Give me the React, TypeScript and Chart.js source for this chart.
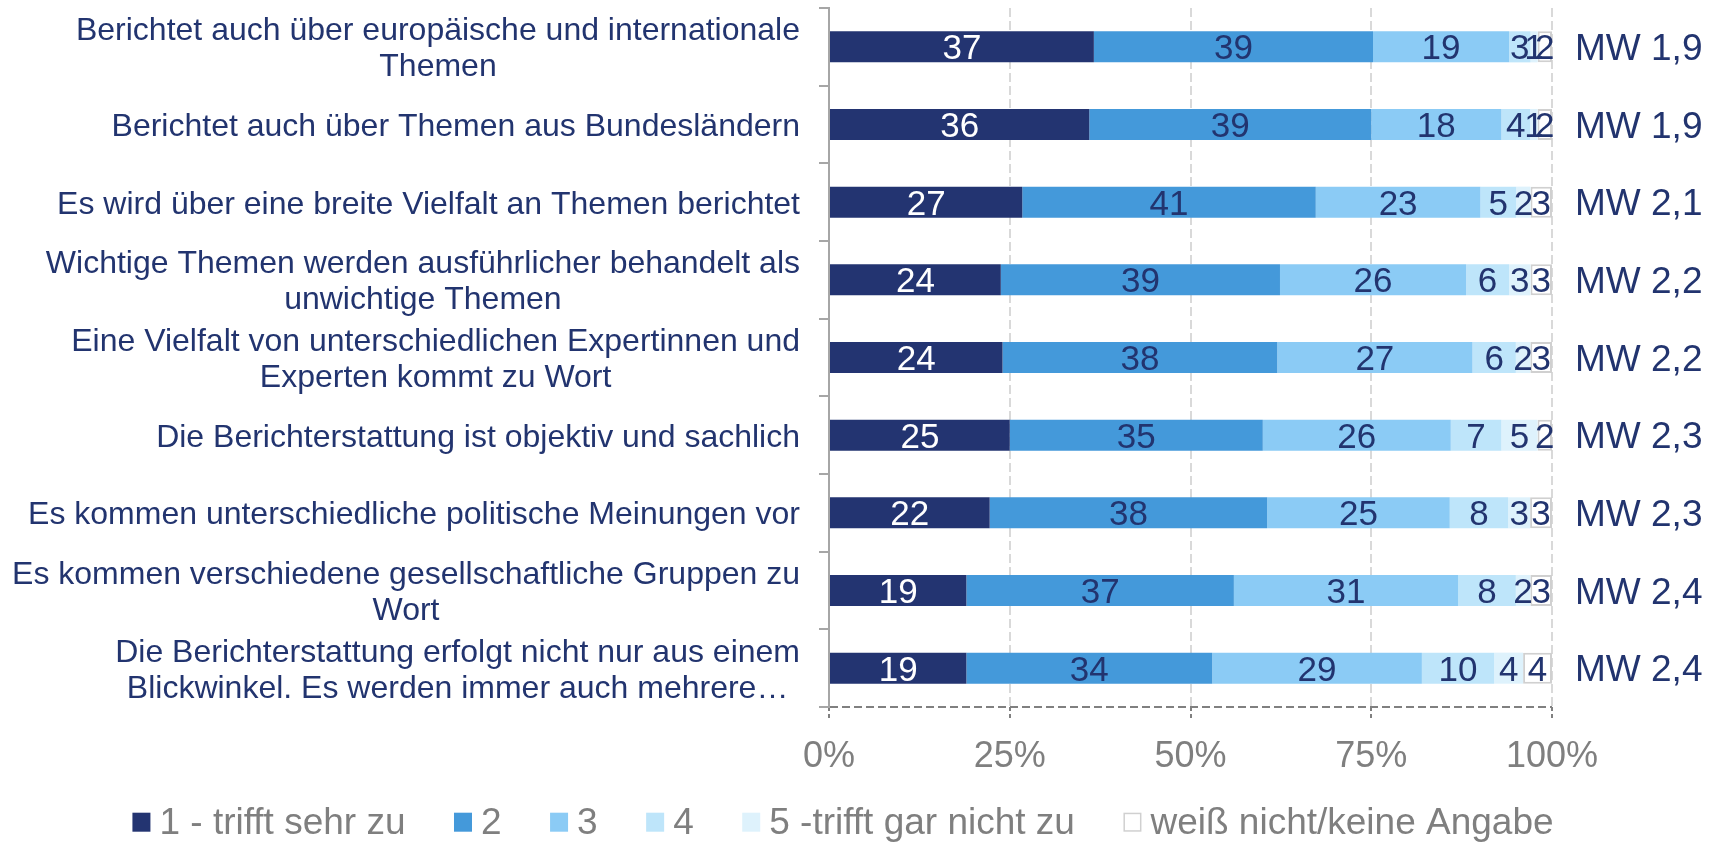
import React, { useEffect, useRef } from "react";
import { Chart, registerables } from "chart.js";

Chart.register(...registerables);

// ---------- data ----------
const categories: string[][] = [
  ["Berichtet auch über europäische und internationale", "Themen"],
  ["Berichtet auch über Themen aus Bundesländern"],
  ["Es wird über eine breite Vielfalt an Themen berichtet"],
  ["Wichtige Themen werden ausführlicher behandelt als", "unwichtige Themen"],
  ["Eine Vielfalt von unterschiedlichen Expertinnen und", "Experten kommt zu Wort"],
  ["Die Berichterstattung ist objektiv und sachlich"],
  ["Es kommen unterschiedliche politische Meinungen vor"],
  ["Es kommen verschiedene gesellschaftliche Gruppen zu", "Wort"],
  ["Die Berichterstattung erfolgt nicht nur aus einem", "Blickwinkel. Es werden immer auch mehrere…"],
];

const seriesLabels = [
  "1 - trifft sehr zu",
  "2",
  "3",
  "4",
  "5 -trifft gar nicht zu",
  "weiß nicht/keine Angabe",
];

const s1 = [37, 36, 27, 24, 24, 25, 22, 19, 19];
const s2 = [39, 39, 41, 39, 38, 35, 38, 37, 34];
const s3 = [19, 18, 23, 26, 27, 26, 25, 31, 29];
const s4 = [3, 4, 5, 6, 6, 7, 8, 8, 10];
const s5 = [1, 1, 2, 3, 2, 5, 3, 2, 4];
const s6 = [2, 2, 3, 3, 3, 2, 3, 3, 4];

const means = [1.9, 1.9, 2.1, 2.2, 2.2, 2.3, 2.3, 2.4, 2.4];
const xTicks = [0, 25, 50, 75, 100];

// ---------- styles ----------
const FONT = '"Liberation Sans", Arial, sans-serif';
const NAVY = "#22346F";
const GRAY_TEXT = "#7F7F7F";
const fills = ["#233471", "#4499DA", "#8BCBF5", "#BEE5FA", "#DEF2FC", "#FFFFFF"];
const borders = ["#233471", "#4499DA", "#8BCBF5", "#BEE5FA", "#DEF2FC", "#D0D0D0"];
const borderWidths = [0, 0, 0, 0, 0, 2];

const allSeries = [s1, s2, s3, s4, s5, s6];
const totals = categories.map((_, i) => allSeries.reduce((a, s) => a + s[i], 0));

const CAP = 0.716;

const yLabelPlugin = {
  id: "yLabels",
  afterDraw(chart: any) {
    const ctx = chart.ctx;
    const y = chart.scales.y;
    const size = 32;
    ctx.save();
    ctx.font = `${size}px ${FONT}`;
    ctx.fillStyle = NAVY;
    ctx.textAlign = "center";
    ctx.textBaseline = "alphabetic";
    const right = y.right - 29;
    categories.forEach((lines, i) => {
      const yc = y.getPixelForValue(i);
      const w = Math.max(...lines.map((l) => ctx.measureText(l).width));
      const cx = right - w / 2;
      lines.forEach((l, j) => {
        const cy = yc + (j - (lines.length - 1) / 2) * 36;
        ctx.fillText(l, cx, cy + (CAP * size) / 2);
      });
    });
    ctx.restore();
  },
};

const valueLabelPlugin = {
  id: "valueLabels",
  afterDatasetsDraw(chart: any) {
    const ctx = chart.ctx;
    const size = 35;
    ctx.save();
    ctx.font = `${size}px ${FONT}`;
    ctx.textAlign = "center";
    ctx.textBaseline = "alphabetic";
    allSeries.forEach((vals, di) => {
      const meta = chart.getDatasetMeta(di);
      meta.data.forEach((el: any, i: number) => {
        const { x, base, y } = el.getProps(["x", "base", "y"], true);
        ctx.fillStyle = di === 0 ? "#FFFFFF" : NAVY;
        ctx.fillText(String(vals[i]), (x + base) / 2, y + (CAP * size) / 2);
      });
    });
    // mean values
    const ms = 37;
    ctx.font = `${ms}px ${FONT}`;
    ctx.fillStyle = NAVY;
    ctx.textAlign = "left";
    const yScale = chart.scales.y;
    means.forEach((m, i) => {
      const yc = yScale.getPixelForValue(i);
      ctx.fillText(
        "MW " + m.toFixed(1).replace(".", ","),
        chart.chartArea.right + 23,
        yc + (CAP * ms) / 2
      );
    });
    ctx.restore();
  },
};

const legendPlugin = {
  id: "customLegend",
  afterDraw(chart: any) {
    const ctx = chart.ctx;
    const size = 37;
    ctx.save();
    ctx.font = `${size}px ${FONT}`;
    ctx.textBaseline = "alphabetic";
    ctx.textAlign = "left";
    const boxW = 18;
    const boxH = 19;
    const gapText = 9;
    const gapItem = 48.5;
    const widths = seriesLabels.map((t) => ctx.measureText(t).width);
    const total =
      widths.reduce((a, w) => a + boxW + gapText + w, 0) + gapItem * (seriesLabels.length - 1);
    let x = chart.width / 2 - 21.5 - total / 2;
    const cy = chart.height - 21.7;
    seriesLabels.forEach((t, i) => {
      ctx.fillStyle = fills[i];
      ctx.fillRect(x, cy - 7.6, boxW, boxH);
      if (borderWidths[i] > 0) {
        ctx.strokeStyle = borders[i];
        ctx.lineWidth = 1.5;
        ctx.strokeRect(x + 0.75, cy - 7.6 + 0.75, boxW - 1.5, boxH - 1.5);
      }
      ctx.fillStyle = GRAY_TEXT;
      ctx.fillText(t, x + boxW + gapText, cy + (CAP * size) / 2);
      x += boxW + gapText + widths[i] + gapItem;
    });
    ctx.restore();
  },
};

export default function App() {
  const ref = useRef<HTMLCanvasElement>(null);
  useEffect(() => {
    Chart.defaults.font.family = FONT;
    const chart = new Chart(ref.current as HTMLCanvasElement, {
      type: "bar",
      data: {
        labels: categories.map((c) => c.join(" ")),
        datasets: allSeries.map((vals, di) => ({
          label: seriesLabels[di],
          data: vals.map((v, i) => (v / totals[i]) * 100),
          backgroundColor: fills[di],
          borderColor: borders[di],
          borderWidth: borderWidths[di],
          borderSkipped: false,
          barPercentage: 0.4,
          categoryPercentage: 1.0,
        })),
      },
      options: {
        indexAxis: "y",
        animation: false,
        responsive: true,
        maintainAspectRatio: false,
        layout: { padding: { left: 0, right: 177, top: 8, bottom: 75 } },
        plugins: {
          legend: { display: false },
          tooltip: { enabled: false },
        },
        scales: {
          x: {
            type: "linear",
            stacked: true,
            min: 0,
            max: 100,
            afterBuildTicks: (s: any) => {
              s.ticks = xTicks.map((v) => ({ value: v }));
            },
            afterFit: (s: any) => {
              s.height = 60;
              s.paddingLeft = 0;
              s.paddingRight = 0;
            },
            ticks: {
              callback: (v: any) => v + "%",
              color: GRAY_TEXT,
              font: { size: 36, family: FONT },
              padding: 17,
              maxRotation: 0,
              autoSkip: false,
            },
            grid: {
              color: (c: any) => (c.index === 0 ? "rgba(0,0,0,0)" : "#D9D9D9"),
              lineWidth: 2,
              tickColor: "#808080",
              tickLength: 11,
              tickWidth: 2,
              tickBorderDash: [4, 3],
            },
            border: { display: false, dash: [9, 4] },
          },
          y: {
            type: "category",
            stacked: true,
            afterFit: (s: any) => {
              s.width = 829;
              s.paddingTop = 0;
              s.paddingBottom = 0;
            },
            ticks: { display: false },
            grid: {
              offset: true,
              drawOnChartArea: true,
              color: (c: any) => (c.type === "scale" ? "#808080" : "rgba(0,0,0,0)"),
              lineWidth: 2,
              tickColor: "#A6A6A6",
              tickLength: 10,
              tickWidth: 2,
              tickBorderDash: [],
            },
            border: { display: true, color: "#A6A6A6", width: 2, dash: [8, 4] },
          },
        },
      } as any,
      plugins: [yLabelPlugin, valueLabelPlugin, legendPlugin],
    });
    return () => chart.destroy();
  }, []);
  return (
    <div style={{ position: "fixed", left: 0, top: 0, width: "1729px", height: "842px" }}>
      <canvas ref={ref} />
    </div>
  );
}
